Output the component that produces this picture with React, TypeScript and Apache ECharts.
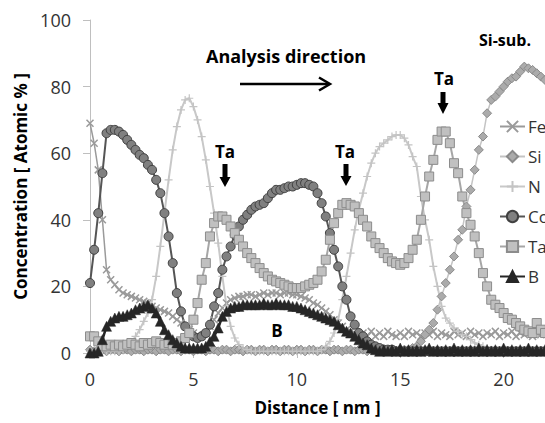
import React, { useEffect, useRef } from "react";
import * as echarts from "echarts";

// sampling step of the profile (nm)
const STEP = 0.2;

const fe = [
  69, 63, 55, 40, 25, 22, 20.5, 19, 18, 17.5,
  17, 16.5, 16, 15.5, 15, 14, 13.5, 13, 12.5, 12,
  11, 10, 9, 8, 7, 6, 5.5, 5, 6, 8,
  10, 12, 13.5, 15, 16, 16.5, 17, 17, 17.5, 17.5,
  17, 17.5, 18, 17.5, 18, 18, 17.5, 18, 18, 17.5,
  17.5, 17, 16.5, 16, 15, 14.5, 13.5, 12.5, 11.5, 10,
  9, 8, 7, 6.5, 6, 5.5, 6, 5, 6.5, 5,
  6, 5, 6.5, 5.5, 5, 6, 5, 6.5, 5.5, 6,
  5, 6, 5.5, 6.5, 5, 6, 5.5, 5, 6.5, 5.5,
  6, 5, 6.5, 5.5, 6, 5, 6, 5.5, 6.5, 5,
  6, 5.5, 6.5, 5, 6, 5.5, 6.5, 5, 6, 5.5,
  6,
];

const si = [
  1, 0.5, 1, 1, 0.5, 1, 1, 0.5, 1, 1,
  0.5, 1, 1, 0.5, 1, 1, 0.5, 1, 1, 0.5,
  1, 1, 0.5, 1, 1, 0.5, 1, 1, 0.5, 1,
  1, 0.5, 1, 1, 0.5, 1, 1, 0.5, 1, 1,
  0.5, 1, 1, 0.5, 1, 1, 0.5, 1, 1, 0.5,
  1, 1, 0.5, 1, 1, 0.5, 1, 1, 0.5, 1,
  1, 0.5, 1, 1, 0.5, 1, 1, 0.5, 1, 1,
  1, 0.5, 1, 1, 0.5, 1, 1, 1, 1.5, 2,
  3.5, 5.5, 7, 9, 13, 17, 21, 25, 29, 34,
  37, 44, 49, 55, 61, 65, 72, 76, 77, 78.5,
  80, 81.5, 82.5, 83, 84.5, 86, 85.5, 85, 84, 83,
  82,
];

const n = [
  0.5, 0.5, 0.5, 0.5, 0.5, 0.5, 0.5, 0.5, 1, 2,
  3, 5, 7, 9.5, 12, 16, 23, 32, 42, 52,
  61, 68, 73, 76, 76.5, 74, 70, 65, 58, 50,
  42, 33, 23, 14, 8, 4.5, 2.5, 1.5, 1, 0.5,
  0.5, 0.5, 0.5, 0.5, 0.5, 0.5, 0.5, 0.5, 0.5, 0.5,
  0.5, 0.5, 0.5, 0.5, 0.5, 0.5, 1, 2, 3.5, 6,
  10, 16, 23, 30, 37, 43, 48, 53, 57, 60,
  62, 63, 64, 65, 65.5, 65.5, 64.5, 62.5, 59, 56,
  47, 40, 34, 26, 20, 14, 10.5, 9, 7.5, 6.5,
  5.5, 5, 4, 3, 2.5, 2, 1.5, 1, 1, 0.5,
  0.5, 0.5, 0.5, 0.5, 0.5, 0.5, 0.5, 0.5, 0.5, 0.5,
  0.5,
];

const co = [
  21, 31, 42, 54, 66, 67, 67, 66.5, 65.5, 64,
  62.5, 61, 59.5, 58.5, 56.5, 55, 52, 48, 42, 35,
  27, 18, 12.5, 8, 5.5, 5, 4.5, 5, 6, 8.5,
  14, 18, 25, 29, 32, 35.5, 38, 40, 41.5, 43,
  44, 44.5, 45, 46.5, 48, 49, 49, 49.5, 50, 50,
  50.5, 51, 51, 50.5, 50, 48, 45, 41, 36, 31,
  26, 20, 16, 11, 8.5, 6, 5, 3.5, 2.5, 2,
  1.5, 1, 1, 1, 0.5, 0.5, 0.5, 0.5, 0.5, 0.5,
  0.5, 0.5, 0.5, 0.5, 0.5, 0.5, 0.5, 0.5, 0.5, 0.5,
  0.5, 0.5, 0.5, 0.5, 0.5, 0.5, 0.5, 0.5, 0.5, 0.5,
  0.5, 0.5, 0.5, 0.5, 0.5, 0.5, 0.5, 0.5, 0.5, 0.5,
  0.5,
];

const ta = [
  5, 5, 3.5, 2, 2, 2.5, 2, 2.5, 2, 2.5,
  3, 2.5, 2, 3, 2.5, 3, 3.5, 3, 2.5, 3,
  2.5, 3, 3.5, 4.5, 6, 10, 15, 22, 27, 35,
  39, 41, 41, 40, 38, 36, 34, 32, 30, 28.5,
  27, 25.5, 24, 23, 22, 21.5, 21, 20.5, 20, 19.5,
  19.5, 19.5, 20, 20.5, 21, 22, 24.5, 28, 34, 39,
  42, 44.5, 45, 44.5, 44, 42, 40, 38, 35, 33,
  31.5, 30, 28.5, 27.5, 27, 26.5, 27, 28.5, 31, 34,
  40, 47, 53, 58, 64, 66.5, 66.5, 63, 57, 54,
  47, 42, 38.5, 35, 30, 24, 20, 16, 14.5, 13.5,
  12, 10.5, 10, 9, 8, 7, 6.5, 6, 9, 7,
  6,
];

const b = [
  0, 0, 0.5, 4, 8, 9.5, 10.5, 11, 11, 11.5,
  12, 13, 13.5, 14, 14.5, 13.5, 12, 9.5, 7, 5.5,
  4, 3, 2, 1.5, 1.5, 1.5, 1.5, 1.5, 2, 3.5,
  5, 7.5, 11, 12.5, 13.5, 14, 14, 14.5, 14.5, 14.5,
  14.5, 14.5, 15, 14.5, 14.5, 15, 14.5, 14.5, 14.5, 14,
  14, 13.5, 13, 12.5, 12, 11.5, 11, 10.5, 10, 9.5,
  8.5, 7.5, 6.5, 6, 5, 4, 3, 2.5, 1.5, 1,
  0.5, 1, 0.5, 1, 0.5, 1.5, 0.5, 1, 0.5, 1,
  0.5, 1, 1.5, 0.5, 1, 0.5, 1, 0.5, 1.5, 0.5,
  1, 0.5, 1, 0.5, 1.5, 0.5, 1, 0.5, 1, 0.5,
  1.5, 0.5, 1, 0.5, 1, 0.5, 1.5, 0.5, 1, 0.5,
  1,
];

const distance = fe.map((_, i) => Math.round(i * STEP * 10) / 10);

const seriesNames = ["Fe", "Si", "N", "Co", "Ta", "B"];
const xTicks = [0, 5, 10, 15, 20];

const FONT = "'Open Sans', 'Noto Sans', sans-serif";
const X_PATH = "path://M0,0L10,10M10,0L0,10";
const PLUS_PATH = "path://M5,0L5,10M0,5L10,5";

function pairs(arr: number[]) {
  return distance.map((d, i) => [d, arr[i]]);
}

function downArrow(cx: number, y0: number, hs: number, y1: number) {
  return {
    type: "polygon",
    shape: {
      points: [
        [cx - 2.5, y0],
        [cx + 2.5, y0],
        [cx + 2.5, hs],
        [cx + 5.5, hs],
        [cx, y1],
        [cx - 5.5, hs],
        [cx - 2.5, hs],
      ],
    },
    style: { fill: "#000" },
  };
}

function label(text: string, x: number, y: number, size: number) {
  return {
    type: "text",
    x,
    y,
    style: {
      text,
      fontFamily: FONT,
      fontWeight: "bold",
      fontSize: size,
      fill: "#000",
      align: "center",
      verticalAlign: "middle",
    },
  };
}

export default function App() {
  const ref = useRef<HTMLDivElement>(null);
  useEffect(() => {
    document.body.style.margin = "0";
    const chart = echarts.init(ref.current!, null, { renderer: "svg" });
    chart.setOption({
      animation: false,
      textStyle: { fontFamily: FONT },
      grid: { left: 90, right: 0, top: 20, bottom: 70 },
      xAxis: {
        type: "value",
        min: 0,
        max: 22,
        interval: 5,
        name: "Distance [ nm ]",
        nameLocation: "middle",
        nameGap: 46,
        nameTextStyle: { fontFamily: FONT, fontWeight: "bold", fontSize: 17, color: "#000" },
        axisLine: { lineStyle: { color: "#bfbfbf", width: 1 } },
        axisTick: { show: true, length: 5, lineStyle: { color: "#bfbfbf" } },
        axisLabel: {
          margin: 17,
          fontSize: 18,
          color: "#333",
          showMaxLabel: false,
          formatter: (v: number) => (xTicks.includes(v) ? String(v) : ""),
        },
        splitLine: { show: false },
      },
      yAxis: {
        type: "value",
        min: 0,
        max: 100,
        interval: 20,
        name: "Concentration [ Atomic % ]",
        nameLocation: "middle",
        nameGap: 58,
        nameRotate: 90,
        nameTextStyle: { fontFamily: FONT, fontWeight: "bold", fontSize: 17, color: "#000" },
        axisLine: { show: true, lineStyle: { color: "#bfbfbf", width: 1 } },
        axisTick: { show: true, length: 7, lineStyle: { color: "#bfbfbf" } },
        axisLabel: { margin: 19, fontSize: 18, color: "#333" },
        splitLine: { show: false },
      },
      legend: {
        data: seriesNames,
        orient: "vertical",
        left: 499,
        top: 118,
        itemGap: 13,
        itemWidth: 25,
        itemHeight: 14,
        padding: 0,
        textStyle: { fontFamily: FONT, fontSize: 17, color: "#333", padding: [0, 0, 0, -2] },
      },
      series: [
        {
          name: "Fe",
          type: "line",
          data: pairs(fe),
          symbol: X_PATH,
          symbolSize: 7,
          lineStyle: { color: "#9a9a9a", width: 1.5 },
          itemStyle: { color: "#9a9a9a", borderColor: "#9a9a9a", borderWidth: 1.5 },
        },
        {
          name: "Si",
          type: "line",
          data: pairs(si),
          symbol: "diamond",
          symbolSize: 9,
          lineStyle: { color: "#c4c4c4", width: 1.5 },
          itemStyle: { color: "#ababab", borderColor: "#8a8a8a", borderWidth: 1 },
        },
        {
          name: "N",
          type: "line",
          data: pairs(n),
          symbol: PLUS_PATH,
          symbolSize: 8,
          lineStyle: { color: "#c8c8c8", width: 2 },
          itemStyle: { color: "#c4c4c4", borderColor: "#c4c4c4", borderWidth: 1.2 },
        },
        {
          name: "Co",
          type: "line",
          data: pairs(co),
          symbol: "circle",
          symbolSize: 9,
          lineStyle: { color: "#555555", width: 2 },
          itemStyle: { color: "#808080", borderColor: "#404040", borderWidth: 1 },
        },
        {
          name: "Ta",
          type: "line",
          data: pairs(ta),
          symbol: "rect",
          symbolSize: 9,
          lineStyle: { color: "#a6a6a6", width: 2 },
          itemStyle: { color: "#c0c0c0", borderColor: "#8c8c8c", borderWidth: 1 },
        },
        {
          name: "B",
          type: "line",
          data: pairs(b),
          symbol: "triangle",
          symbolSize: 10,
          lineStyle: { color: "#262626", width: 2.5 },
          itemStyle: { color: "#262626", borderColor: "#262626", borderWidth: 0.5 },
        },
      ],
      graphic: [
        {
          type: "text",
          x: 206,
          y: 56,
          style: {
            text: "Analysis direction",
            fontFamily: FONT,
            fontWeight: "bold",
            fontSize: 18,
            fill: "#000",
            align: "left",
            verticalAlign: "middle",
          },
        },
        { type: "line", shape: { x1: 240, y1: 84, x2: 329, y2: 84 }, style: { stroke: "#000", lineWidth: 2.5 } },
        {
          type: "polyline",
          shape: { points: [[319, 77.5], [330, 84], [319, 90.5]] },
          style: { stroke: "#000", lineWidth: 2.5, fill: null },
        },
        {
          type: "text",
          x: 479,
          y: 40,
          style: {
            text: "Si-sub.",
            fontFamily: FONT,
            fontWeight: "bold",
            fontSize: 16,
            fill: "#000",
            align: "left",
            verticalAlign: "middle",
          },
        },
        label("Ta", 225, 151, 17),
        downArrow(225, 164, 177, 187),
        label("Ta", 345, 151, 17),
        downArrow(346, 164, 176, 186),
        label("Ta", 444, 78, 17),
        downArrow(443, 92, 103, 114),
        label("B", 277, 330, 17),
      ],
    });
    return () => chart.dispose();
  }, []);
  return <div ref={ref} style={{ width: 545, height: 423 }} />;
}
